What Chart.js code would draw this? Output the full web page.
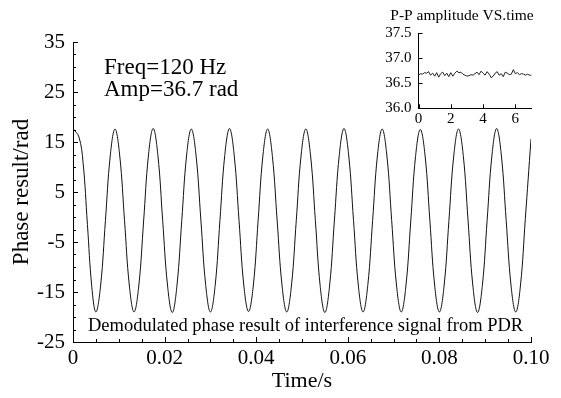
<!DOCTYPE html>
<html><head><meta charset="utf-8">
<script src="https://cdn.jsdelivr.net/npm/chart.js@4.4.1/dist/chart.umd.min.js"></script>
<style>
html,body{margin:0;padding:0;background:#fff;}
#wrap{position:relative;width:561px;height:398px;overflow:hidden;}
#main{position:absolute;left:0;top:0;width:561px;height:398px;}
#inset{position:absolute;left:360px;top:0;width:201px;height:135px;}
</style></head><body>
<div id="wrap">
<canvas id="main" width="561" height="398"></canvas>
<canvas id="inset" width="201" height="135"></canvas>
</div>
<script>
// ---- main chart data ----
const timeS = [
  0, 0.0013, 0.0022, 0.00315, 0.0041,
  0.00500, 0.00604, 0.00708, 0.00813, 0.00917, 0.01021, 0.01125, 0.01229,
  0.01333, 0.01438, 0.01542, 0.01646, 0.01750, 0.01854, 0.01958, 0.02063,
  0.02167, 0.02271, 0.02375, 0.02479, 0.02583, 0.02688, 0.02792, 0.02896,
  0.03000, 0.03104, 0.03208, 0.03313, 0.03417, 0.03521, 0.03625, 0.03729,
  0.03833, 0.03938, 0.04042, 0.04146, 0.04250, 0.04354, 0.04458, 0.04563,
  0.04667, 0.04771, 0.04875, 0.04979, 0.05083, 0.05188, 0.05292, 0.05396,
  0.05500, 0.05604, 0.05708, 0.05813, 0.05917, 0.06021, 0.06125, 0.06229,
  0.06333, 0.06438, 0.06542, 0.06646, 0.06750, 0.06854, 0.06958, 0.07063,
  0.07167, 0.07271, 0.07375, 0.07479, 0.07583, 0.07688, 0.07792, 0.07896,
  0.08000, 0.08104, 0.08208, 0.08313, 0.08417, 0.08521, 0.08625, 0.08729,
  0.08833, 0.08938, 0.09042, 0.09146, 0.09250, 0.09354, 0.09458, 0.09563,
  0.09667, 0.09771, 0.09875, 0.10000
];
const phaseRad = [
  17.7, 16.0, 10.9, -1.5, -13.9,
  -19.0, -13.6, -0.7, 12.2, 17.6, 12.2, -0.7, -13.6,
  -19.0, -13.6, -0.8, 12.2, 17.7, 12.3, -0.7, -13.6,
  -19.1, -13.6, -0.7, 12.2, 17.6, 12.2, -0.6, -13.5,
  -19.0, -13.7, -0.7, 12.3, 17.7, 12.2, -0.7, -13.6,
  -18.9, -13.6, -0.7, 12.2, 17.6, 12.1, -0.8, -13.6,
  -19.0, -13.6, -0.7, 12.2, 17.6, 12.2, -0.7, -13.7,
  -19.1, -13.6, -0.6, 12.3, 17.7, 12.2, -0.7, -13.6,
  -19.0, -13.5, -0.7, 12.2, 17.6, 12.2, -0.7, -13.6,
  -19.0, -13.6, -0.8, 12.1, 17.5, 12.2, -0.7, -13.6,
  -19.0, -13.6, -0.7, 12.2, 17.6, 12.3, -0.6, -13.6,
  -19.1, -13.7, -0.7, 12.2, 17.7, 12.2, -0.7, -13.6,
  -19.0, -13.6, -0.5, 15.6
];
const xTickValues = [0, 0.02, 0.04, 0.06, 0.08, 0.10];
const xTickLabels = ['0', '0.02', '0.04', '0.06', '0.08', '0.10'];
const yTickValues = [-25, -15, -5, 5, 15, 25, 35];
const yTickLabels = ['-25', '-15', '-5', '5', '15', '25', '35'];

// ---- inset chart data ----
const insetTimeS = [
  0, 0.125, 0.25, 0.375, 0.5, 0.625, 0.75, 0.875, 1.0, 1.125, 1.25, 1.375,
  1.5, 1.625, 1.75, 1.875, 2.0, 2.125, 2.25, 2.375, 2.5, 2.625, 2.75, 2.875,
  3.0, 3.125, 3.25, 3.375, 3.5, 3.625, 3.75, 3.875, 4.0, 4.125, 4.25, 4.375,
  4.5, 4.625, 4.75, 4.875, 5.0, 5.125, 5.25, 5.375, 5.5, 5.625, 5.75, 5.875,
  6.0, 6.125, 6.25, 6.375, 6.5, 6.625, 6.75, 6.875, 7.0
];
const ppAmplitude = [
  36.66, 36.69, 36.68, 36.71, 36.70, 36.73, 36.66, 36.70, 36.64, 36.71, 36.62, 36.69,
  36.72, 36.65, 36.70, 36.63, 36.71, 36.64, 36.70, 36.74, 36.71, 36.72, 36.68, 36.66,
  36.64, 36.65, 36.67, 36.66, 36.69, 36.72, 36.67, 36.74, 36.70, 36.66, 36.73, 36.68,
  36.61, 36.64, 36.70, 36.73, 36.66, 36.69, 36.63, 36.72, 36.70, 36.67, 36.68, 36.77,
  36.69, 36.71, 36.67, 36.69, 36.68, 36.66, 36.68, 36.66, 36.66
];
const insetXTickValues = [0, 2, 4, 6];
const insetXTickLabels = ['0', '2', '4', '6'];
const insetYTickValues = [36.0, 36.5, 37.0, 37.5];
const insetYTickLabels = ['36.0', '36.5', '37.0', '37.5'];

const SERIF = '"Liberation Serif", "Times New Roman", serif';

function makeTicks(values, labels, minorStep) {
  const out = [];
  for (let i = 0; i < values.length; i++) {
    out.push({ value: values[i], lbl: labels[i], isMajor: true });
    if (minorStep && i < values.length - 1) {
      const n = Math.round((values[i + 1] - values[i]) / minorStep);
      for (let k = 1; k < n; k++) out.push({ value: values[i] + k * minorStep, lbl: '', isMajor: false });
    }
  }
  out.sort((a, b) => a.value - b.value);
  return out;
}

const inwardTicks = {
  id: 'inwardTicks',
  afterDraw(chart, args, opts) {
    const ctx = chart.ctx, a = chart.chartArea;
    const xs = chart.scales.x, ys = chart.scales.y;
    ctx.save();
    ctx.strokeStyle = '#000';
    ctx.lineWidth = 1;
    ctx.beginPath();
    xs.ticks.forEach(t => {
      const p = Math.round(xs.getPixelForValue(t.value)) + 0.5;
      const len = t.isMajor ? opts.major : opts.minor;
      ctx.moveTo(p, a.bottom);
      ctx.lineTo(p, a.bottom - len);
    });
    ys.ticks.forEach(t => {
      const p = Math.round(ys.getPixelForValue(t.value)) + 0.5;
      const len = t.isMajor ? opts.major : opts.minor;
      ctx.moveTo(a.left, p);
      ctx.lineTo(a.left + len, p);
    });
    ctx.stroke();
    ctx.restore();
  }
};

const textNotes = {
  id: 'textNotes',
  afterDraw(chart, args, opts) {
    const ctx = chart.ctx;
    ctx.save();
    ctx.fillStyle = '#000';
    ctx.textBaseline = 'middle';
    (opts.items || []).forEach(it => {
      ctx.font = it.size + 'px ' + SERIF;
      ctx.textAlign = it.align || 'left';
      ctx.fillText(it.text, it.x, it.y);
    });
    ctx.restore();
  }
};

new Chart(document.getElementById('main'), {
  type: 'line',
  data: {
    datasets: [{
      data: timeS.map((t, i) => ({ x: t, y: phaseRad[i] })),
      borderColor: '#111',
      borderWidth: 1,
      pointRadius: 0,
      tension: 0.4,
      fill: false
    }]
  },
  options: {
    responsive: false,
    animation: false,
    events: [],
    layout: { padding: { left: 0, right: 30, top: 42, bottom: 0 } },
    plugins: {
      legend: { display: false },
      tooltip: { enabled: false },
      inwardTicks: { major: 5, minor: 3 },
      textNotes: {
        items: [
          { text: 'Freq=120 Hz', x: 104, y: 68, size: 23 },
          { text: 'Amp=36.7 rad', x: 104, y: 90, size: 23 },
          { text: 'Demodulated phase result of interference signal from PDR', x: 88, y: 326, size: 18.5 }
        ]
      }
    },
    scales: {
      x: {
        type: 'linear', min: 0, max: 0.1,
        afterBuildTicks: s => { s.ticks = makeTicks(xTickValues, xTickLabels, 0.005); },
        afterFit: s => { s.height = 56; },
        grid: { display: false, drawTicks: false },
        border: { display: true, color: '#000', width: 1 },
        ticks: {
          autoSkip: false, maxRotation: 0, padding: 4, color: '#000',
          font: { family: SERIF, size: 21 },
          callback: (v, i, ticks) => ticks[i].lbl || ''
        },
        title: {
          display: true, text: 'Time/s', color: '#000',
          font: { family: SERIF, size: 22, lineHeight: 1 },
          padding: { top: 0, bottom: 6 }
        }
      },
      y: {
        type: 'linear', min: -25, max: 35,
        afterBuildTicks: s => { s.ticks = makeTicks(yTickValues, yTickLabels, 2.5); },
        afterFit: s => { s.width = 73; },
        grid: { display: false, drawTicks: false },
        border: { display: true, color: '#000', width: 1 },
        ticks: {
          autoSkip: false, padding: 8, color: '#000',
          font: { family: SERIF, size: 21 },
          callback: (v, i, ticks) => ticks[i].lbl || ''
        },
        title: {
          display: true, text: 'Phase result/rad', color: '#000',
          font: { family: SERIF, size: 23, lineHeight: 1 },
          padding: { top: 10, bottom: 0 }
        }
      }
    }
  },
  plugins: [inwardTicks, textNotes]
});

new Chart(document.getElementById('inset'), {
  type: 'line',
  data: {
    datasets: [{
      data: insetTimeS.map((t, i) => ({ x: t, y: ppAmplitude[i] })),
      borderColor: '#222',
      borderWidth: 1,
      pointRadius: 0,
      tension: 0,
      fill: false
    }]
  },
  options: {
    responsive: false,
    animation: false,
    events: [],
    layout: { padding: { left: 0, right: 29.5, top: 33, bottom: 0 } },
    plugins: {
      legend: { display: false },
      tooltip: { enabled: false },
      inwardTicks: { major: 4, minor: 2 },
      textNotes: {
        items: [
          { text: 'P-P amplitude VS.time', x: 102, y: 16, size: 15.5, align: 'center' }
        ]
      }
    },
    scales: {
      x: {
        type: 'linear', min: 0, max: 7,
        afterBuildTicks: s => { s.ticks = makeTicks(insetXTickValues, insetXTickLabels, 0); },
        afterFit: s => { s.height = 26.7; },
        grid: { display: false, drawTicks: false },
        border: { display: true, color: '#000', width: 1 },
        ticks: {
          autoSkip: false, maxRotation: 0, padding: 2, color: '#000',
          font: { family: SERIF, size: 15 },
          callback: (v, i, ticks) => ticks[i].lbl || ''
        }
      },
      y: {
        type: 'linear', min: 36.0, max: 37.5,
        afterBuildTicks: s => { s.ticks = makeTicks(insetYTickValues, insetYTickLabels, 0); },
        afterFit: s => { s.width = 58.5; },
        grid: { display: false, drawTicks: false },
        border: { display: true, color: '#000', width: 1 },
        ticks: {
          autoSkip: false, padding: 7, color: '#000',
          font: { family: SERIF, size: 15 },
          callback: (v, i, ticks) => ticks[i].lbl || ''
        }
      }
    }
  },
  plugins: [inwardTicks, textNotes]
});
</script>
</body></html>
